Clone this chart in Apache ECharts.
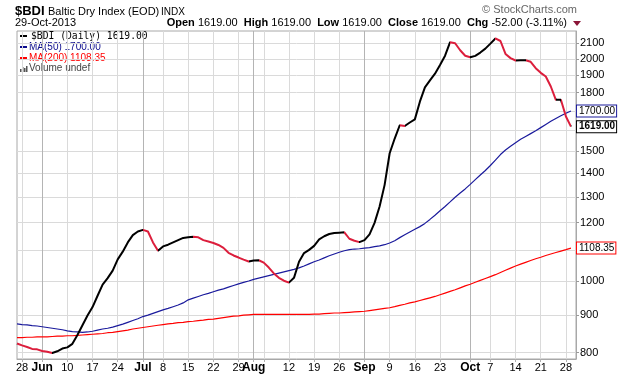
<!DOCTYPE html>
<html>
<head>
<meta charset="utf-8">
<script src="https://cdn.jsdelivr.net/npm/echarts@6/dist/echarts.min.js"></script>
<style>
  html, body { margin: 0; padding: 0; background: #fff; }
  #chart { width: 620px; height: 376px; }
</style>
</head>
<body>
<div id="chart"></div>
<script>
// trading days shown on the chart
const dates = [
  '2013-05-24', '2013-05-28', '2013-05-29', '2013-05-30', '2013-05-31',
  '2013-06-03', '2013-06-04', '2013-06-05', '2013-06-06', '2013-06-07', '2013-06-10', '2013-06-11', '2013-06-12', '2013-06-13', '2013-06-14',
  '2013-06-17', '2013-06-18', '2013-06-19', '2013-06-20', '2013-06-21', '2013-06-24', '2013-06-25', '2013-06-26', '2013-06-27', '2013-06-28',
  '2013-07-01', '2013-07-02', '2013-07-03', '2013-07-05', '2013-07-08', '2013-07-09', '2013-07-10', '2013-07-11', '2013-07-12', '2013-07-15',
  '2013-07-16', '2013-07-17', '2013-07-18', '2013-07-19', '2013-07-22', '2013-07-23', '2013-07-24', '2013-07-25', '2013-07-26', '2013-07-29',
  '2013-07-30', '2013-07-31',
  '2013-08-01', '2013-08-02', '2013-08-05', '2013-08-06', '2013-08-07', '2013-08-08', '2013-08-09', '2013-08-12', '2013-08-13', '2013-08-14',
  '2013-08-15', '2013-08-16', '2013-08-19', '2013-08-20', '2013-08-21', '2013-08-22', '2013-08-23', '2013-08-26', '2013-08-27', '2013-08-28',
  '2013-08-29', '2013-08-30',
  '2013-09-02', '2013-09-03', '2013-09-04', '2013-09-05', '2013-09-06', '2013-09-09', '2013-09-10', '2013-09-11', '2013-09-12', '2013-09-13',
  '2013-09-16', '2013-09-17', '2013-09-18', '2013-09-19', '2013-09-20', '2013-09-23', '2013-09-24', '2013-09-25', '2013-09-26', '2013-09-27',
  '2013-09-30',
  '2013-10-01', '2013-10-02', '2013-10-03', '2013-10-04', '2013-10-07', '2013-10-08', '2013-10-09', '2013-10-10', '2013-10-11', '2013-10-14',
  '2013-10-15', '2013-10-16', '2013-10-17', '2013-10-18', '2013-10-21', '2013-10-22', '2013-10-23', '2013-10-24', '2013-10-25', '2013-10-28',
  '2013-10-29'
];

const bdi = [
  823, 818, 814, 809, 808,
  804, 802, 799, 803, 810, 813, 822, 845, 871, 898, 922, 955, 989, 1009, 1033, 1070, 1096, 1128, 1154, 1167,
  1173, 1167, 1128, 1099, 1114, 1120, 1128, 1136, 1144, 1146, 1148, 1146, 1136, 1131, 1126, 1119, 1109, 1092, 1083, 1076, 1069, 1063,
  1066, 1067, 1059, 1043, 1024, 1010, 1001, 995, 1010, 1062, 1091, 1102, 1116, 1139, 1150, 1158, 1162, 1163, 1164, 1141, 1134, 1129,
  1136, 1157, 1199, 1262, 1350, 1490, 1560, 1626, 1622, 1640, 1656, 1750, 1830, 1870, 1910, 1962, 2020, 2107, 2100, 2055, 2020,
  2010, 2019, 2040, 2065, 2098, 2132, 2115, 2031, 2005, 1990, 1991, 1992, 1982, 1943, 1915, 1893, 1835, 1760, 1761, 1671, 1619
];

const ma50 = [
  875, 873, 872, 870, 869,
  867, 865, 863, 861, 859, 856, 854, 853, 852, 853, 855, 858, 861, 863, 866, 870, 874, 879, 884, 889,
  895, 899, 904, 909, 914, 918, 923, 928, 934, 943, 948, 953, 958, 962, 967, 972, 976, 981, 986, 991, 996, 1000,
  1005, 1009, 1013, 1017, 1021, 1025, 1029, 1033, 1037, 1042, 1048, 1055, 1062, 1068, 1075, 1082, 1088, 1094, 1099, 1103, 1105, 1106,
  1108, 1110, 1113, 1116, 1120, 1126, 1134, 1145, 1155, 1165, 1175, 1185, 1197, 1212, 1228, 1245, 1262, 1280, 1299, 1316, 1333,
  1352, 1372, 1392, 1412, 1434, 1458, 1484, 1505, 1523, 1540, 1556, 1570, 1584, 1598, 1614, 1630, 1646, 1661, 1675, 1688, 1700
];

const ma200 = [
  838, 838, 839, 839, 840,
  840, 840, 841, 842, 842, 843, 843, 844, 845, 846, 847, 848, 849, 851, 852, 854, 856, 858, 861, 863,
  865, 867, 869, 871, 873, 875, 876, 878, 879, 881, 882, 884, 885, 887, 888, 890, 892, 894, 896, 897, 899, 900,
  901, 901, 901, 901, 901, 901, 901, 901, 901, 901, 901, 901, 902, 902, 903, 904, 905, 905, 906, 907, 908, 909,
  910, 912, 914, 916, 918, 920, 923, 927, 930, 934, 937, 941, 945, 949, 953, 958, 963, 968, 973, 979, 985,
  990, 996, 1002, 1008, 1014, 1020, 1027, 1034, 1041, 1048, 1054, 1060, 1066, 1072, 1077, 1083, 1088, 1093, 1098, 1103, 1108.35
];

const yTicks = [800, 900, 1000, 1100, 1200, 1300, 1400, 1500, 1600, 1700, 1800, 1900, 2000, 2100];
const yRange = [784, 2182];
const monthNames = ['Jan', 'Feb', 'Mar', 'Apr', 'May', 'Jun', 'Jul', 'Aug', 'Sep', 'Oct', 'Nov', 'Dec'];

const FONT = 'Liberation Sans, Arial, sans-serif';

// price scale is logarithmic: plot ln(value) on a value axis
const ln = v => Math.log(v);

const days = dates.map(s => new Date(s + 'T00:00:00Z'));
const isMonthStart = i => i > 0 && i < days.length && days[i].getUTCMonth() !== days[i - 1].getUTCMonth();
const isWeekStart = i => i > 0 && i < days.length && days[i].getUTCDay() <= days[i - 1].getUTCDay();
const isGrid = i => isMonthStart(i) || (isWeekStart(i) && !isMonthStart(i + 1));
const isLabel = i => isMonthStart(i) || (isGrid(i) && !isMonthStart(i - 1) && !isMonthStart(i - 2));

const gridIdx = [];
for (let i = 0; i < days.length; i++) if (isGrid(i)) gridIdx.push(i);
const gridColors = gridIdx.map(i => isMonthStart(i) ? '#b4b4b4' : '#dadada');

// falling days are drawn red
const downPieces = [];
for (let i = 1; i < bdi.length; i++) {
  if (bdi[i] < bdi[i - 1]) {
    const last = downPieces[downPieces.length - 1];
    if (last && last.lte === i - 1) last.lte = i;
    else downPieces.push({ gte: i - 1, lte: i, color: '#dc1e3c' });
  }
}

const categories = dates.concat(['']); // small gap at the right edge
const n = bdi.length - 1;

const chart = echarts.init(document.getElementById('chart'));

const legendRows = [
  { y: 36, text: '$BDI (Daily) ' + bdi[n].toFixed(2), color: '#000', mono: true },
  { y: 47, text: 'MA(50) ' + ma50[n].toFixed(2), color: '#0a0a8c' },
  { y: 58, text: 'MA(200) ' + ma200[n].toFixed(2), color: '#ff0000' }
];

const graphics = [
  { type: 'text', x: 15, y: 11, style: { text: '$BDI', font: 'bold 13px ' + FONT, fill: '#000', verticalAlign: 'middle' } },
  { type: 'text', x: 48, y: 12, style: { text: 'Baltic Dry Index (EOD)', font: '11px ' + FONT, fill: '#000', verticalAlign: 'middle' } },
  { type: 'text', x: 161, y: 12, style: { text: 'INDX', font: '10px ' + FONT, fill: '#000', verticalAlign: 'middle' } },
  { type: 'text', x: 15, y: 23, style: { text: '29-Oct-2013', font: '11px ' + FONT, fill: '#000', verticalAlign: 'middle' } },
  { type: 'text', x: 577, y: 10, style: { text: '\u00a9 StockCharts.com', font: '11px ' + FONT, fill: '#666', align: 'right', verticalAlign: 'middle' } },
  {
    type: 'text', x: 567, y: 23,
    style: {
      text: '{b|Open} 1619.00  {b|High} 1619.00  {b|Low} 1619.00  {b|Close} 1619.00  {b|Chg} -52.00 (-3.11%)',
      font: '11px ' + FONT, fill: '#000', align: 'right', verticalAlign: 'middle',
      rich: { b: { fontWeight: 'bold', fontSize: 11, fontFamily: FONT } }
    }
  },
  { type: 'polygon', shape: { points: [[573, 21], [581, 21], [577, 26]] }, style: { fill: '#8b1538' } }
];

legendRows.forEach((r, k) => {
  graphics.push({ type: 'line', shape: { x1: 20, y1: r.y, x2: 27, y2: r.y }, style: { stroke: r.color, lineWidth: 2 } });
  graphics.push({
    type: 'text', x: k === 0 ? 31 : 29, y: r.y,
    style: { text: r.text, font: (r.mono ? '9.7px DejaVu Sans Mono, monospace' : '10px ' + FONT), fill: r.color, verticalAlign: 'middle' }
  });
});
// volume icon + text
[[20, 3], [22, 5], [24, 4], [26, 6]].forEach(b => {
  graphics.push({ type: 'rect', shape: { x: b[0], y: 72 - b[1], width: 1.5, height: b[1] }, style: { fill: '#555' } });
});
graphics.push({ type: 'text', x: 29, y: 68, style: { text: 'Volume undef', font: '10px ' + FONT, fill: '#444', verticalAlign: 'middle' } });

const boxLabel = (text, color, bold) => ({
  show: true,
  formatter: () => text,
  distance: 6,
  color: '#000',
  fontFamily: FONT,
  fontSize: 10,
  fontWeight: bold ? 'bold' : 'normal',
  backgroundColor: '#fff',
  borderColor: color,
  borderWidth: 1,
  padding: [1, 1, 0, 2]
});

chart.setOption({
  animation: false,
  textStyle: { fontFamily: FONT },
  grid: { left: 17, right: 44, top: 31, bottom: 17, show: true, borderColor: '#a8a8a8', borderWidth: 1 },
  graphic: graphics,
  visualMap: {
    show: false,
    type: 'piecewise',
    seriesIndex: 0,
    dimension: 0,
    pieces: downPieces,
    outOfRange: { color: '#000' }
  },
  xAxis: {
    type: 'category',
    data: categories,
    boundaryGap: false,
    axisLine: { show: true, lineStyle: { color: '#a8a8a8' } },
    axisTick: { show: true, length: 3, interval: (i) => isGrid(i), lineStyle: { color: '#b0b0b0' } },
    axisLabel: {
      interval: (i) => isLabel(i),
      margin: 3,
      fontSize: 11,
      color: '#000',
      fontFamily: FONT,
      hideOverlap: false,
      formatter: (v, i) => {
        if (isMonthStart(i)) return '{b|' + monthNames[days[i].getUTCMonth()] + '}';
        return String(days[i].getUTCDate());
      },
      rich: { b: { fontWeight: 'bold', fontSize: 12, fontFamily: FONT, color: '#000' } }
    },
    splitLine: { show: true, interval: (i) => isGrid(i), lineStyle: { color: gridColors, width: 1 } }
  },
  yAxis: {
    type: 'value',
    position: 'right',
    min: ln(yRange[0]),
    max: ln(yRange[1]),
    axisLine: { show: true, lineStyle: { color: '#a8a8a8' } },
    axisTick: { show: true, length: 3, customValues: yTicks.map(ln), lineStyle: { color: '#999' } },
    axisLabel: {
      customValues: yTicks.map(ln),
      formatter: v => String(Math.round(Math.exp(v))),
      margin: 4,
      fontSize: 11,
      color: '#000',
      fontFamily: FONT
    },
    splitLine: { show: true, lineStyle: { color: '#dadada', width: 1 } }
  },
  series: [
    {
      name: '$BDI',
      type: 'line',
      data: bdi.map(ln),
      showSymbol: false,
      symbol: 'none',
      lineStyle: { width: 2 },
      z: 5,
      endLabel: boxLabel(bdi[n].toFixed(2), '#000', true)
    },
    {
      name: 'MA(50)',
      type: 'line',
      data: ma50.map(ln),
      showSymbol: false,
      symbol: 'none',
      lineStyle: { width: 1.2, color: '#1a1a9c' },
      itemStyle: { color: '#1a1a9c' },
      z: 4,
      endLabel: boxLabel(ma50[n].toFixed(2), '#1a1a9c', false)
    },
    {
      name: 'MA(200)',
      type: 'line',
      data: ma200.map(ln),
      showSymbol: false,
      symbol: 'none',
      lineStyle: { width: 1.2, color: '#ff0000' },
      itemStyle: { color: '#ff0000' },
      z: 3,
      endLabel: boxLabel(ma200[n].toFixed(2), '#ff0000', false)
    }
  ]
});
</script>
</body>
</html>
